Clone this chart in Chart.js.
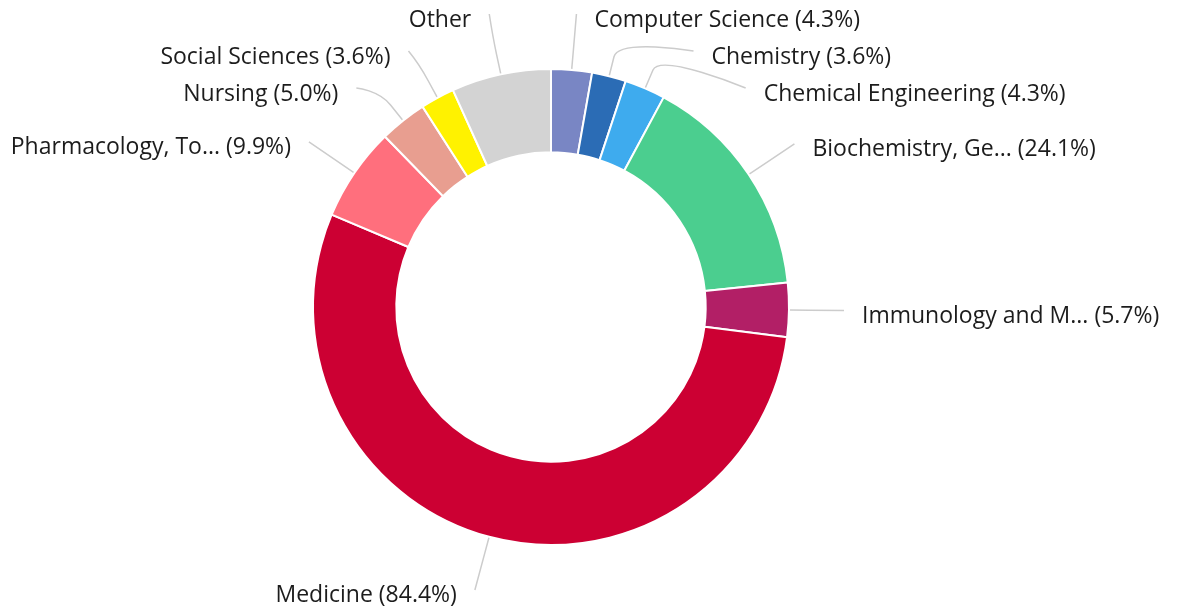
<!DOCTYPE html>
<html lang="en">
<head>
<meta charset="UTF-8">
<title>Documents by subject area</title>
<script src="https://cdn.jsdelivr.net/npm/chart.js"></script>
<style>
  html, body { margin: 0; padding: 0; background: #fff; }
  .wrap { position: relative; width: 1188px; height: 612px; }
</style>
</head>
<body>
<div class="wrap"><canvas id="subjects"></canvas></div>
<script>
// Data (slice order is clockwise from 12 o'clock)
const subjects = ['Computer Science', 'Chemistry', 'Chemical Engineering', 'Biochemistry, Ge...',
  'Immunology and M...', 'Medicine', 'Pharmacology, To...', 'Nursing', 'Social Sciences', 'Other'];
const shares = [4.3, 3.6, 4.3, 24.1, 5.7, 84.4, 9.9, 5.0, 3.6, 10.5];
const showShare = [true, true, true, true, true, true, true, true, true, false];
const sliceColors = ['#7986c4', '#2b6cb5', '#3eabee', '#4bce8f', '#b21f66',
  '#cc0033', '#ff6f7d', '#e89e90', '#fff200', '#d3d3d3'];

const labelText = i => showShare[i] ? `${subjects[i]} (${shares[i].toFixed(1)}%)` : subjects[i];

// put overlapping labels of one side into groups centred on their natural spot
function spread(items, gap, minY, maxY) {
  let groups = items.map(it => ({ list: [it], top: it.ny }));
  let merged = true;
  while (merged) {
    merged = false;
    groups.forEach(g => {
      const mean = g.list.reduce((s, it) => s + it.ny, 0) / g.list.length;
      const h = (g.list.length - 1) * gap;
      g.top = Math.min(Math.max(mean - h / 2, minY), maxY - h);
    });
    for (let k = 0; k < groups.length - 1; k++) {
      const a = groups[k], b = groups[k + 1];
      if (a.top + a.list.length * gap > b.top) {
        groups.splice(k, 2, { list: a.list.concat(b.list), top: a.top });
        merged = true;
        break;
      }
    }
  }
  groups.forEach(g => g.list.forEach((it, k) => { it.y = g.top + k * gap; }));
}

const outsideLabels = {
  id: 'outsideLabels',
  afterDatasetsDraw(chart) {
    const ctx = chart.ctx;
    const arcs = chart.getDatasetMeta(0).data;
    const cx = arcs[0].x, cy = arcs[0].y, R = arcs[0].outerRadius;
    const dist = 55;

    const items = arcs.map((arc, i) => {
      const mid = (arc.startAngle + arc.endAngle) / 2;
      const cos = Math.cos(mid), sin = Math.sin(mid);
      return { i, cos, sin, right: cos >= 0, nx: cx + cos * (R + dist), ny: cy + sin * (R + dist) };
    });

    [true, false].forEach(side => {
      const list = items.filter(it => it.right === side).sort((a, b) => a.ny - b.ny);
      spread(list, 37, 14, chart.height - 14);
    });

    ctx.save();
    ctx.font = '23px "Open Sans"';
    ctx.textBaseline = 'middle';
    items.forEach(it => {
      const dir = it.right ? 1 : -1;
      const dy = it.y - cy;
      const onCircle = Math.sqrt(Math.max((R + dist) ** 2 - dy * dy, 0));
      const x = cx + dir * Math.max(onCircle, Math.abs(it.nx - cx));
      const touch = { x: cx + it.cos * (R + 1), y: cy + it.sin * (R + 1) };
      const brk = { x: cx + it.cos * (R + 20), y: cy + it.sin * (R + 20) };

      ctx.beginPath();
      ctx.moveTo(x, it.y);
      ctx.bezierCurveTo(x, it.y, 2 * brk.x - touch.x, 2 * brk.y - touch.y, brk.x, brk.y);
      ctx.lineTo(touch.x, touch.y);
      ctx.strokeStyle = '#cccccc';
      ctx.lineWidth = 1.5;
      ctx.stroke();

      ctx.fillStyle = '#1c1c1c';
      ctx.textAlign = it.right ? 'left' : 'right';
      ctx.fillText(labelText(it.i), x + dir * 18, it.y + 6);
    });
    ctx.restore();
  }
};

new Chart(document.getElementById('subjects'), {
  type: 'doughnut',
  data: {
    labels: subjects,
    datasets: [{
      data: shares,
      backgroundColor: sliceColors,
      borderColor: '#ffffff',
      borderWidth: 2,
      hoverOffset: 0
    }]
  },
  options: {
    responsive: true,
    maintainAspectRatio: false,
    animation: false,
    radius: 238,
    cutout: '65%',
    layout: { padding: { top: 2, bottom: 0, left: 0, right: 86 } },
    plugins: {
      legend: { display: false },
      tooltip: { enabled: false }
    }
  },
  plugins: [outsideLabels]
});
</script>
</body>
</html>
